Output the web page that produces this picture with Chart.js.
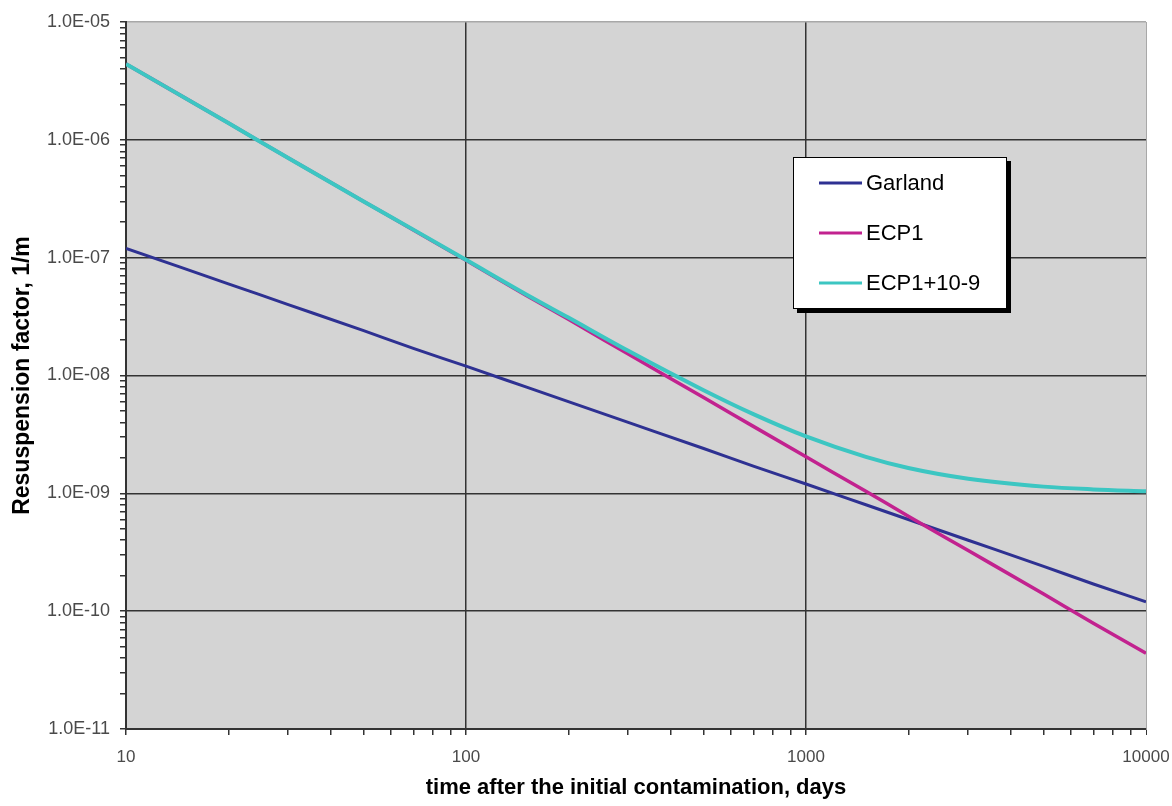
<!DOCTYPE html>
<html>
<head>
<meta charset="utf-8">
<script src="https://cdn.jsdelivr.net/npm/chart.js@4"></script>
<style>
  body { margin: 0; background: #fff; }
  #wrap { width: 1172px; height: 806px; }
</style>
</head>
<body>
<div id="wrap"><canvas id="myChart" width="1172" height="806"></canvas></div>
<script>
// days after contamination (x)
let days = [10, 20, 30, 50, 70, 100, 150, 200, 300, 500, 700, 1000, 1500, 2000, 3000, 5000, 7000, 10000]

// resuspension factor, 1/m
let garland = [1.2e-7, 6.0e-8, 4.0e-8, 2.4e-8, 1.7e-8, 1.2e-8, 8.0e-9, 6.0e-9, 4.0e-9, 2.4e-9, 1.7e-9, 1.2e-9, 8.0e-10, 6.0e-10, 4.0e-10, 2.4e-10, 1.7e-10, 1.2e-10]
let ecp1 = [4.4e-6, 1.39e-6, 7.0e-7, 3.0e-7, 1.72e-7, 9.5e-8, 4.8e-8, 3.0e-8, 1.52e-8, 6.5e-9, 3.7e-9, 2.04e-9, 1.04e-9, 6.4e-10, 3.27e-10, 1.40e-10, 7.9e-11, 4.4e-11]
let ecp1plus = [4.4e-6, 1.39e-6, 7.0e-7, 3.0e-7, 1.73e-7, 9.6e-8, 4.9e-8, 3.1e-8, 1.62e-8, 7.5e-9, 4.7e-9, 3.04e-9, 2.04e-9, 1.64e-9, 1.33e-9, 1.14e-9, 1.08e-9, 1.04e-9]

let seriesNames = ['Garland', 'ECP1', 'ECP1+10-9']
let seriesColors = ['#2e3192', '#c2228f', '#3cc6c2']

let xTicks = [10, 100, 1000, 10000]
let yTicks = [1e-11, 1e-10, 1e-9, 1e-8, 1e-7, 1e-6, 1e-5]

const font = '"Liberation Sans", Arial, sans-serif'

function pts(vals) {
  return days.map((d, i) => ({ x: d, y: vals[i] }))
}

function isDecade(v) {
  let l = Math.log10(v)
  return Math.abs(l - Math.round(l)) < 1e-6
}

// every 1..9 x 10^n between the first and last decade
function minorTicks(decades) {
  let out = []
  for (let i = 0; i < decades.length - 1; i++) {
    for (let k = 1; k < 10; k++) out.push({ value: decades[i] * k })
  }
  out.push({ value: decades[decades.length - 1] })
  return out
}

function expLabel(v) {
  let e = Math.round(Math.log10(v))
  let s = Math.abs(e) < 10 ? '0' + Math.abs(e) : '' + Math.abs(e)
  return '1.0E' + (e < 0 ? '-' : '+') + s
}

// grey plot area
const plotBg = {
  id: 'plotBg',
  beforeDraw(chart) {
    const { ctx, chartArea: a } = chart
    ctx.save()
    ctx.fillStyle = '#d4d4d4'
    ctx.fillRect(a.left, a.top, a.right - a.left, a.bottom - a.top)
    ctx.restore()
  }
}

// boxed legend with a drop shadow, like the original
const boxLegend = {
  id: 'boxLegend',
  afterDraw(chart) {
    const ctx = chart.ctx
    const bx = 793, by = 157, bw = 214, bh = 152
    ctx.save()
    ctx.fillStyle = '#000'
    ctx.fillRect(bx + 4, by + 4, bw, bh)
    ctx.fillStyle = '#fff'
    ctx.fillRect(bx, by, bw, bh)
    ctx.strokeStyle = '#000'
    ctx.lineWidth = 1
    ctx.strokeRect(bx + 0.5, by + 0.5, bw - 1, bh - 1)
    ctx.font = '22px ' + font
    ctx.textBaseline = 'middle'
    chart.data.datasets.forEach((ds, i) => {
      let y = by + 26 + i * 50
      ctx.strokeStyle = ds.borderColor
      ctx.lineWidth = 3
      ctx.beginPath()
      ctx.moveTo(bx + 26, y)
      ctx.lineTo(bx + 69, y)
      ctx.stroke()
      ctx.fillStyle = '#000'
      ctx.fillText(ds.label, bx + 73, y + 1)
    })
    ctx.restore()
  }
}

let myChart = new Chart(document.getElementById('myChart'), {
  type: 'line',
  data: {
    datasets: [
      { label: seriesNames[0], data: pts(garland), borderColor: seriesColors[0], borderWidth: 3, order: 2 },
      { label: seriesNames[1], data: pts(ecp1), borderColor: seriesColors[1], borderWidth: 3.5, order: 1 },
      { label: seriesNames[2], data: pts(ecp1plus), borderColor: seriesColors[2], borderWidth: 4, order: 0 }
    ]
  },
  options: {
    responsive: false,
    animation: false,
    layout: { padding: { left: 0, top: 22, right: 26, bottom: 0 } },
    elements: {
      point: { radius: 0 },
      line: { cubicInterpolationMode: 'monotone', fill: false }
    },
    plugins: {
      legend: { display: false },
      tooltip: { enabled: false }
    },
    scales: {
      x: {
        type: 'logarithmic',
        min: xTicks[0],
        max: xTicks[xTicks.length - 1],
        afterBuildTicks: scale => { scale.ticks = minorTicks(xTicks) },
        afterFit: scale => {
          scale.height = 77
          scale.paddingLeft = 0
          scale.paddingRight = 0
        },
        border: { color: '#333', width: 2 },
        grid: {
          color: c => c.tick && isDecade(c.tick.value) ? (c.tick.value === 10000 ? '#a8a8a8' : '#333') : 'rgba(0,0,0,0)',
          lineWidth: c => c.tick && c.tick.value === 10000 ? 1 : 1.5,
          tickColor: '#333',
          tickLength: 6
        },
        ticks: {
          autoSkip: false,
          maxRotation: 0,
          padding: 12,
          color: '#4a4a4a',
          font: { family: font, size: 17 },
          callback: v => isDecade(v) ? String(Math.round(v)) : ''
        },
        title: {
          display: true,
          text: 'time after the initial contamination, days',
          color: '#000',
          font: { family: font, size: 22, weight: 'bold' },
          padding: { top: 0, bottom: 5 }
        }
      },
      y: {
        type: 'logarithmic',
        min: yTicks[0],
        max: yTicks[yTicks.length - 1],
        afterBuildTicks: scale => { scale.ticks = minorTicks(yTicks) },
        afterFit: scale => {
          scale.width = 126
          scale.paddingTop = 0
          scale.paddingBottom = 0
        },
        border: { color: '#333', width: 2 },
        grid: {
          color: c => {
            if (!c.tick || !isDecade(c.tick.value)) return 'rgba(0,0,0,0)'
            return Math.round(Math.log10(c.tick.value)) === -5 ? '#a8a8a8' : '#333'
          },
          lineWidth: 1.5,
          tickColor: '#333',
          tickLength: 6
        },
        ticks: {
          autoSkip: false,
          padding: 10,
          color: '#4a4a4a',
          font: { family: font, size: 18 },
          callback: v => isDecade(v) ? expLabel(v) : ''
        },
        title: {
          display: true,
          text: 'Resuspension factor, 1/m',
          color: '#000',
          font: { family: font, size: 23, weight: 'bold' },
          padding: { top: 9, bottom: 0 }
        }
      }
    }
  },
  plugins: [plotBg, boxLegend]
})
</script>
</body>
</html>
